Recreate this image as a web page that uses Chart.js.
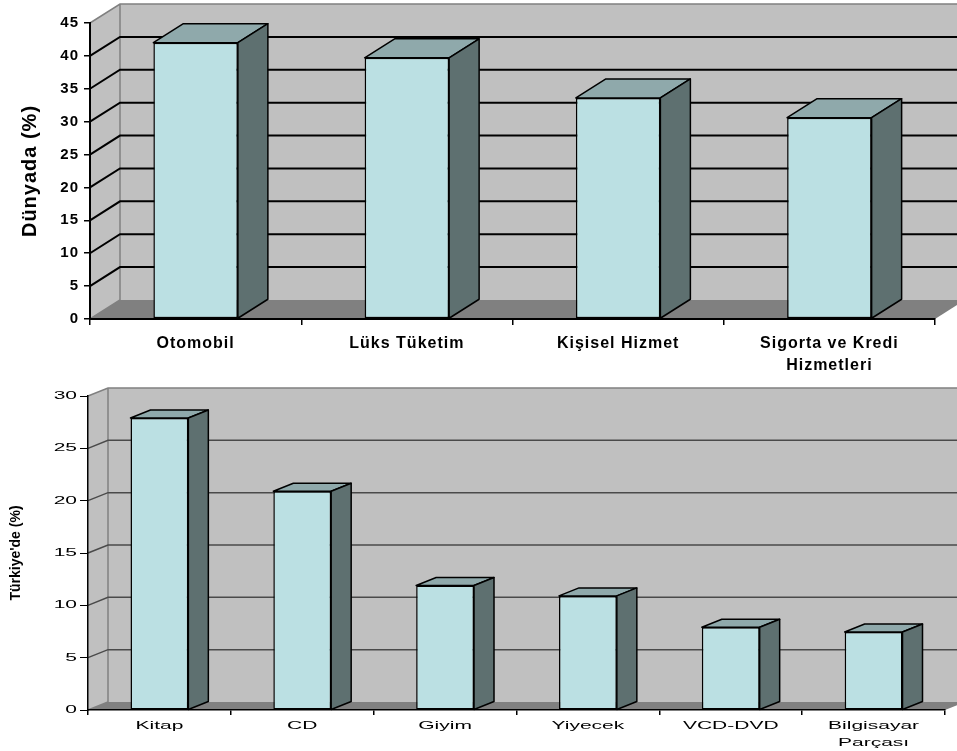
<!DOCTYPE html>
<html>
<head>
<meta charset="utf-8">
<script src="https://cdn.jsdelivr.net/npm/chart.js@4.4.1/dist/chart.umd.min.js"></script>
<style>
  body { margin: 0; background: #fff; }
  canvas { display: block; }
</style>
</head>
<body>
<canvas id="dunya" width="957" height="385"></canvas>
<canvas id="turkiye" width="957" height="366"></canvas>
<script>
// Dunyada (%) - ust grafik
const dunyaKategori = ['Otomobil', 'Lüks Tüketim', 'Kişisel Hizmet', ['Sigorta ve Kredi', 'Hizmetleri']];
const dunyaDeger = [42, 39.7, 33.6, 30.6];

// Turkiye'de (%) - alt grafik
const turkiyeKategori = ['Kitap', 'CD', 'Giyim', 'Yiyecek', 'VCD-DVD', ['Bilgisayar', 'Parçası']];
const turkiyeDeger = [27.9, 20.9, 11.9, 10.9, 7.9, 7.45];

Chart.defaults.font.family = '"Liberation Sans", Arial, sans-serif';
Chart.defaults.color = '#000';

// 3 boyutlu duvar, taban ve kutu yuzleri
const kutu3d = {
  id: 'kutu3d',
  beforeDraw: function (chart, args, o) {
    var ctx = chart.ctx, a = chart.chartArea, ys = chart.scales.y;
    var dx = o.dx, dy = o.dy;
    ctx.save();
    ctx.fillStyle = '#c0c0c0';
    ctx.beginPath();
    ctx.moveTo(a.left, a.top);
    ctx.lineTo(a.left + dx, a.top - dy);
    ctx.lineTo(a.left + dx, a.bottom - dy);
    ctx.lineTo(a.left, a.bottom);
    ctx.closePath();
    ctx.fill();
    ctx.fillRect(a.left + dx, a.top - dy, a.right - a.left, a.bottom - a.top);

    ctx.fillStyle = '#808080';
    ctx.beginPath();
    ctx.moveTo(a.left, a.bottom);
    ctx.lineTo(a.right, a.bottom);
    ctx.lineTo(a.right + dx, a.bottom - dy);
    ctx.lineTo(a.left + dx, a.bottom - dy);
    ctx.closePath();
    ctx.fill();

    ctx.strokeStyle = '#808080';
    ctx.lineWidth = 1.5;
    ctx.beginPath();
    ctx.moveTo(a.left, a.top);
    ctx.lineTo(a.left + dx, a.top - dy);
    ctx.lineTo(a.right + dx, a.top - dy);
    ctx.moveTo(a.left + dx, a.top - dy);
    ctx.lineTo(a.left + dx, a.bottom - dy);
    ctx.moveTo(a.left, a.bottom);
    ctx.lineTo(a.left + dx, a.bottom - dy);
    ctx.stroke();

    ctx.strokeStyle = o.gridColor;
    ctx.lineWidth = o.gridWidth;
    ys.ticks.forEach(function (t) {
      if (t.value <= ys.min || t.value >= ys.max) return;
      var yy = ys.getPixelForValue(t.value);
      ctx.beginPath();
      ctx.moveTo(a.left, yy);
      ctx.lineTo(a.left + dx, yy - dy);
      ctx.lineTo(a.right + dx, yy - dy);
      ctx.stroke();
    });
    ctx.restore();
    ctx.letterSpacing = o.letterSpacing || '0px';
  },
  afterDatasetsDraw: function (chart, args, o) {
    var ctx = chart.ctx, dx = o.dx, dy = o.dy;
    chart.getDatasetMeta(0).data.forEach(function (bar) {
      var p = bar.getProps(['x', 'y', 'base', 'width'], true);
      var l = p.x - p.width / 2, r = p.x + p.width / 2;
      ctx.save();
      ctx.strokeStyle = '#000';
      ctx.lineWidth = o.edge;
      ctx.lineJoin = 'round';
      ctx.fillStyle = '#8fa9ab';
      ctx.beginPath();
      ctx.moveTo(l, p.y);
      ctx.lineTo(l + dx, p.y - dy);
      ctx.lineTo(r + dx, p.y - dy);
      ctx.lineTo(r, p.y);
      ctx.closePath();
      ctx.fill();
      ctx.stroke();
      ctx.fillStyle = '#5e7070';
      ctx.beginPath();
      ctx.moveTo(r, p.y);
      ctx.lineTo(r + dx, p.y - dy);
      ctx.lineTo(r + dx, p.base - dy);
      ctx.lineTo(r, p.base);
      ctx.closePath();
      ctx.fill();
      ctx.stroke();
      ctx.restore();
    });
  },
  afterDraw: function (chart, args, o) {
    if (!o.stretch) return;
    // alt grafikte yazilar yatayda genis
    var ctx = chart.ctx, xs = chart.scales.x, ys = chart.scales.y;
    ctx.save();
    ctx.fillStyle = '#000';
    ctx.font = o.labelFont;
    ctx.textBaseline = 'middle';
    ys.ticks.forEach(function (t) {
      ctx.save();
      ctx.translate(o.yLabelRight, ys.getPixelForValue(t.value));
      ctx.scale(o.stretch, 1);
      ctx.textAlign = 'right';
      ctx.fillText(t.label, 0, 0);
      ctx.restore();
    });
    chart.data.labels.forEach(function (lab, i) {
      var satirlar = [].concat(lab);
      satirlar.forEach(function (s, j) {
        ctx.save();
        ctx.translate(xs.getPixelForTick(i), xs.top + o.xLabelTop + j * o.lineGap);
        ctx.scale(o.stretch, 1);
        ctx.textAlign = 'center';
        ctx.fillText(s, 0, 0);
        ctx.restore();
      });
    });
    ctx.restore();
  }
};

new Chart(document.getElementById('dunya'), {
  type: 'bar',
  plugins: [kutu3d],
  data: {
    labels: dunyaKategori,
    datasets: [{
      data: dunyaDeger,
      backgroundColor: '#bbe0e3',
      borderColor: '#000',
      borderWidth: 1.5,
      borderSkipped: false,
      barPercentage: 0.4,
      categoryPercentage: 1
    }]
  },
  options: {
    responsive: false,
    animation: false,
    layout: { padding: { left: 0, right: 22, top: 23, bottom: 0 } },
    plugins: {
      legend: { display: false },
      tooltip: { enabled: false },
      kutu3d: { dx: 30, dy: 19, gridColor: '#000', gridWidth: 2, edge: 1.5, letterSpacing: '1px' }
    },
    scales: {
      x: {
        afterFit: function (s) { s.height = 66; },
        grid: { drawOnChartArea: false, color: '#000', tickLength: 6, lineWidth: 1.5 },
        border: { color: '#000', width: 2 },
        ticks: { font: { size: 16, weight: 'bold', lineHeight: 1.35 }, padding: 8, maxRotation: 0, autoSkip: false }
      },
      y: {
        min: 0, max: 45,
        afterFit: function (s) { s.width = 90; },
        grid: { drawOnChartArea: false, color: '#000', tickLength: 6, lineWidth: 1.5 },
        border: { color: '#000', width: 2 },
        ticks: { stepSize: 5, font: { size: 15, weight: 'bold' }, padding: 5 },
        title: { display: true, text: 'Dünyada (%)', font: { size: 20, weight: 'bold' }, padding: { top: 18, bottom: 0 } }
      }
    }
  }
});

new Chart(document.getElementById('turkiye'), {
  type: 'bar',
  plugins: [kutu3d],
  data: {
    labels: turkiyeKategori,
    datasets: [{
      data: turkiyeDeger,
      backgroundColor: '#bbe0e3',
      borderColor: '#000',
      borderWidth: 1.5,
      borderSkipped: false,
      barPercentage: 0.405,
      categoryPercentage: 1
    }]
  },
  options: {
    responsive: false,
    animation: false,
    layout: { padding: { left: 0, right: 12, top: 11, bottom: 0 } },
    plugins: {
      legend: { display: false },
      tooltip: { enabled: false },
      kutu3d: {
        dx: 20, dy: 8, gridColor: '#4a4a4a', gridWidth: 1.5, edge: 1.5,
        stretch: 2, labelFont: '10.5px "Liberation Sans", Arial, sans-serif',
        yLabelRight: 77, xLabelTop: 16, lineGap: 16.7
      }
    },
    scales: {
      x: {
        afterFit: function (s) { s.height = 41; },
        grid: { drawOnChartArea: false, color: '#000', tickLength: 5, lineWidth: 1.5 },
        border: { color: '#000', width: 1.5 },
        ticks: { display: false }
      },
      y: {
        min: 0, max: 30,
        afterFit: function (s) { s.width = 88; },
        grid: { drawOnChartArea: false, color: '#000', tickLength: 8, lineWidth: 1 },
        border: { color: '#000', width: 1.5 },
        ticks: { display: false, stepSize: 5 },
        title: { display: true, text: "Türkiye'de (%)", font: { size: 14, weight: 'bold' }, padding: { top: 8, bottom: 0 } }
      }
    }
  }
});
</script>
</body>
</html>
